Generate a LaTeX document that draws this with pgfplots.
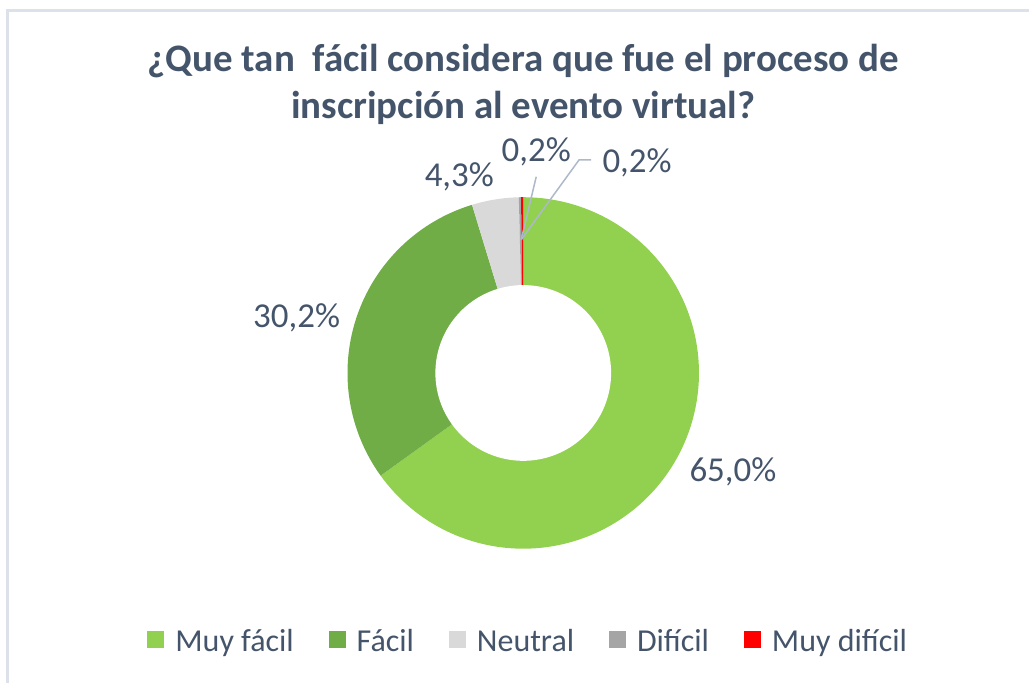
\documentclass[border=0pt]{standalone}
\usepackage{pgfplots}
\pgfplotsset{compat=1.18}
\usepackage{fontspec}
\setmainfont{Carlito}
\definecolor{mfacil}{HTML}{92D050}
\definecolor{facil}{HTML}{70AD47}
\definecolor{neutral}{HTML}{D9D9D9}
\definecolor{dificil}{HTML}{A5A5A5}
\definecolor{mdificil}{HTML}{FF0000}
\definecolor{txt}{HTML}{44546A}
\definecolor{lead}{HTML}{ADB9CA}
\definecolor{frm}{HTML}{DDE2EA}
\begin{document}
\begin{tikzpicture}
\def\cx{524}\def\cy{310.5}\def\R{176}\def\r{88}
% percentages: Muy facil, Facil, Neutral, Dificil, Muy dificil
\def\vA{65.0}\def\vB{30.2}\def\vC{4.3}\def\vD{0.2}\def\vE{0.2}
\pgfmathsetmacro\tot{\vA+\vB+\vC+\vD+\vE}
\pgfmathsetmacro\aA{90}
\pgfmathsetmacro\aB{\aA-(\vA/\tot)*360}
\pgfmathsetmacro\aC{\aB-(\vB/\tot)*360}
\pgfmathsetmacro\aD{\aC-(\vC/\tot)*360}
\pgfmathsetmacro\aE{\aD-(\vD/\tot)*360}
\pgfmathsetmacro\aF{\aE-(\vE/\tot)*360}
\begin{axis}[x=1pt,y=1pt,xmin=0,xmax=1030,ymin=0,ymax=684,
  hide axis, clip=false, at={(0,0)}, anchor=south west,
  legend style={at={(axis cs:528,42)}, anchor=center, draw=none, fill=none,
    legend columns=-1, font=\fontsize{32}{38}\selectfont, text=txt,
    nodes={inner xsep=0pt},
    /tikz/every odd column/.append style={column sep=11pt},
    /tikz/every even column/.append style={column sep=35pt}},
  legend image code/.code={\fill[#1] (0pt,-7pt) rectangle (17pt,10pt);},
  ]
\path (axis cs:0,0) rectangle (axis cs:1030,684);
\addplot[fill=mfacil, draw=none, domain=\aB:\aA, samples=150, variable=\t]
  ({\cx+\R*cos(\t)},{\cy+\R*sin(\t)}) -- (axis cs:\cx,\cy) -- cycle;
\addplot[fill=facil, draw=none, domain=\aC:\aB, samples=100, variable=\t]
  ({\cx+\R*cos(\t)},{\cy+\R*sin(\t)}) -- (axis cs:\cx,\cy) -- cycle;
\addplot[fill=neutral, draw=none, domain=\aD:\aC, samples=20, variable=\t]
  ({\cx+\R*cos(\t)},{\cy+\R*sin(\t)}) -- (axis cs:\cx,\cy) -- cycle;
\addplot[fill=dificil, draw=none, domain=\aE:\aD, samples=5, variable=\t]
  ({\cx+\R*cos(\t)},{\cy+\R*sin(\t)}) -- (axis cs:\cx,\cy) -- cycle;
\addplot[fill=mdificil, draw=none, domain=\aF:\aE, samples=5, variable=\t]
  ({\cx+\R*cos(\t)},{\cy+\R*sin(\t)}) -- (axis cs:\cx,\cy) -- cycle;
\addplot[fill=white, draw=none, domain=0:360, samples=150, variable=\t]
  ({\cx+\r*cos(\t)},{\cy+\r*sin(\t)}) -- cycle;
\addlegendimage{mfacil}\addlegendentry{Muy fácil}
\addlegendimage{facil}\addlegendentry{Fácil}
\addlegendimage{neutral}\addlegendentry{Neutral}
\addlegendimage{dificil}\addlegendentry{Difícil}
\addlegendimage{mdificil}\addlegendentry{Muy difícil}
% leader lines
\draw[lead, line width=1.5pt] (axis cs:522,444) -- (axis cs:537,507);
\draw[lead, line width=1.5pt] (axis cs:522,444) -- (axis cs:580,524) -- (axis cs:592,524);
% labels
\begin{scope}[every node/.style={anchor=base, text=txt, font=\fontsize{35}{42}\selectfont, inner sep=0pt}]
\node at (axis cs:734,202) {65,0\%};
\node at (axis cs:297,356) {30,2\%};
\node at (axis cs:460,497) {4,3\%};
\node at (axis cs:537,522) {0,2\%};
\node at (axis cs:638,511) {0,2\%};
\end{scope}
% title
\begin{scope}[every node/.style={anchor=base, text=txt, font=\bfseries\fontsize{39}{45}\selectfont, inner sep=0pt}]
\node at (axis cs:524,612) {¿Que tan\ \ fácil considera que fue el proceso de};
\node at (axis cs:524,565) {inscripción al evento virtual?};
\end{scope}
% frame
\draw[frm, line width=3pt] (axis cs:7.5,0) -- (axis cs:7.5,673.5) -- (axis cs:1030,673.5);
\end{axis}
\end{tikzpicture}
\end{document}
